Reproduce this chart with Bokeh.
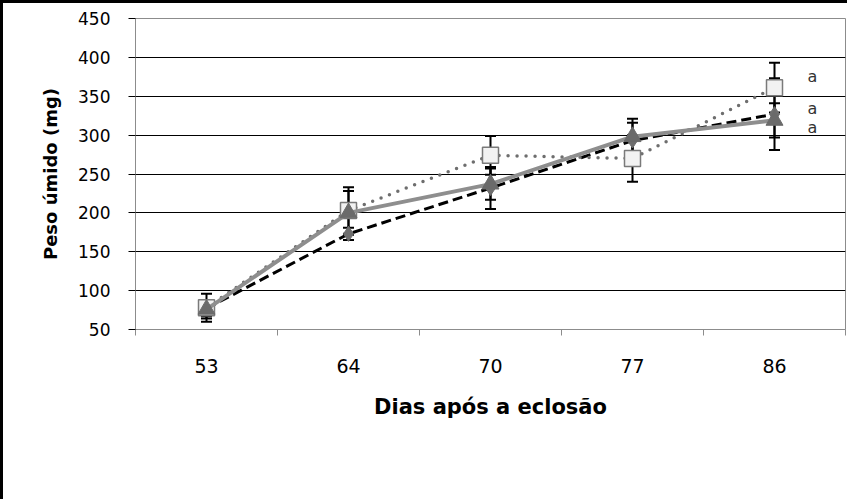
from bokeh.plotting import figure
from bokeh.models import (Range1d, FixedTicker, ColumnDataSource, Whisker, TeeHead,
                          Legend, LegendItem)
from bokeh.core.properties import value
from bokeh.embed import file_html
from bokeh.resources import INLINE

# ---- data ----
dias = ["53", "64", "70", "77", "86"]
artemia = [77, 173, 232, 293, 327]
artemia_err = [10, 8, 27, 23, 46]
desmame = [78, 203, 274, 270, 361]
desmame_err = [18, 30, 25, 30, 32]
bal = [76, 200, 237, 298, 319]
bal_err = [12, 28, 20, 23, 22]
y_ticks = [50, 100, 150, 200, 250, 300, 350, 400, 450]
sig_letters = ["a", "a", "a"]
sig_y = [376, 334, 310]

xs = [i + 0.5 for i in range(len(dias))]
FONT = "DejaVu Sans"

p = figure(frame_width=710, frame_height=311,
           x_range=Range1d(0, len(dias)), y_range=Range1d(50, 450),
           output_backend="svg", toolbar_location=None,
           min_border_left=132, min_border_right=2, min_border_top=15, min_border_bottom=0)
p.styles = {"border-left": "3px solid black", "border-top": "3px solid black"}
p.outline_line_color = "#8c8c8c"
p.background_fill_color = "white"
p.border_fill_color = "white"

# y axis
p.yaxis.ticker = FixedTicker(ticks=y_ticks)
p.yaxis.axis_line_color = "#8c8c8c"
p.yaxis.major_tick_line_color = "black"
p.yaxis.major_tick_out = 7
p.yaxis.major_tick_in = 0
p.yaxis.minor_tick_line_color = None
p.yaxis.major_label_standoff = 18
p.yaxis.major_label_text_font = FONT
p.yaxis.major_label_text_font_size = "17px"
p.yaxis.major_label_text_color = "black"
p.yaxis.axis_label = "Peso úmido (mg)"
p.yaxis.axis_label_text_font = FONT
p.yaxis.axis_label_text_font_style = "bold"
p.yaxis.axis_label_text_font_size = "18px"
p.yaxis.axis_label_text_color = "black"
p.yaxis.axis_label_standoff = 14

# x axis (labels at category centres, ticks at category boundaries)
p.xaxis.ticker = FixedTicker(ticks=xs, minor_ticks=list(range(len(dias) + 1)))
p.xaxis.major_label_overrides = {x: d for x, d in zip(xs, dias)}
p.xaxis.axis_line_color = "#8c8c8c"
p.xaxis.major_tick_line_color = None
p.xaxis.major_tick_out = 0
p.xaxis.major_tick_in = 0
p.xaxis.minor_tick_line_color = "#8c8c8c"
p.xaxis.minor_tick_out = 6
p.xaxis.minor_tick_in = 0
p.xaxis.major_label_standoff = 23
p.xaxis.major_label_text_font = FONT
p.xaxis.major_label_text_font_size = "19px"
p.xaxis.major_label_text_color = "black"
p.xaxis.axis_label = "Dias após a eclosão"
p.xaxis.axis_label_text_font = FONT
p.xaxis.axis_label_text_font_style = "bold"
p.xaxis.axis_label_text_font_size = "21px"
p.xaxis.axis_label_text_color = "black"
p.xaxis.axis_label_standoff = 19

p.xgrid.grid_line_color = None
p.ygrid.ticker = FixedTicker(ticks=y_ticks)
p.ygrid.grid_line_color = "black"
p.ygrid.grid_line_width = 1

def add_series(vals, errs, line_kw, marker_kw):
    src = ColumnDataSource(dict(x=xs, y=vals,
                                upper=[v + e for v, e in zip(vals, errs)],
                                lower=[v - e for v, e in zip(vals, errs)]))
    w = Whisker(source=src, base="x", upper="upper", lower="lower",
                line_color="black", line_width=2,
                upper_head=TeeHead(size=11, line_color="black", line_width=2),
                lower_head=TeeHead(size=11, line_color="black", line_width=2))
    p.add_layout(w)
    lr = p.line("x", "y", source=src, **line_kw)
    mr = p.scatter("x", "y", source=src, **marker_kw)
    return lr, mr

a_l, a_m = add_series(artemia, artemia_err,
                      dict(line_color="black", line_width=3, line_dash="10 5"),
                      dict(marker="diamond", size=15, fill_color="#6e6e6e", line_color="#6e6e6e"))
d_l, d_m = add_series(desmame, desmame_err,
                      dict(line_color="#6e6e6e", line_width=3.5, line_dash="0 9", line_cap="round"),
                      dict(marker="square", size=16, fill_color="#f2f2f2", line_color="#7a7a7a", line_width=1.5))
b_l, b_m = add_series(bal, bal_err,
                      dict(line_color="#8e8e8e", line_width=4),
                      dict(marker="triangle", size=17, fill_color="#6a6a6a", line_color="#6a6a6a"))

# significance letters
p.text(x=[xs[-1]] * len(sig_letters), y=sig_y, text=sig_letters, x_offset=38,
       text_font=value(FONT), text_font_size="16px", text_color="#333333",
       text_align="center", text_baseline="middle")

legend = Legend(items=[LegendItem(label="Artemia", renderers=[a_l, a_m]),
                       LegendItem(label="Desmame", renderers=[d_l, d_m]),
                       LegendItem(label="Desmame+BAL", renderers=[b_l, b_m])],
                orientation="horizontal", location="top_left",
                glyph_width=62, glyph_height=20, label_standoff=8, spacing=37,
                padding=0, margin=8, border_line_color=None, background_fill_alpha=0,
                label_text_font=FONT, label_text_font_size="20px", label_text_color="black")
p.add_layout(legend, "below")

open("out.html", "w").write(file_html(p, INLINE))
